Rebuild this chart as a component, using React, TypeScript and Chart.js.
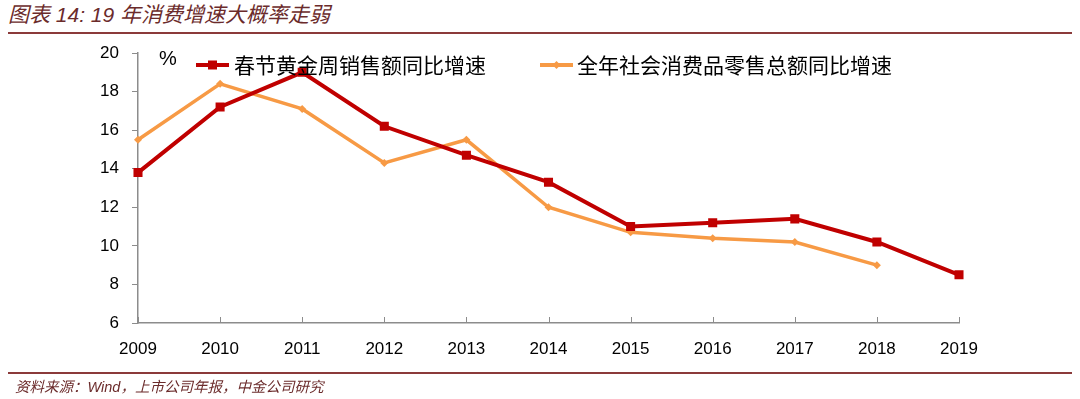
import React, { useEffect, useRef } from "react";
import { Chart, registerables } from "chart.js";

Chart.register(...registerables);

const years = ["2009", "2010", "2011", "2012", "2013", "2014", "2015", "2016", "2017", "2018", "2019"];
const goldenWeekGrowth = [13.8, 17.2, 19.0, 16.2, 14.7, 13.3, 11.0, 11.2, 11.4, 10.2, 8.5];
const retailGrowth: (number | null)[] = [15.5, 18.4, 17.1, 14.3, 15.5, 12.0, 10.7, 10.4, 10.2, 9.0, null];
const seriesNames = ["春节黄金周销售额同比增速", "全年社会消费品零售总额同比增速"];
const yMin = 6;
const yMax = 20;
const yStep = 2;

const RED = "#C00000";
const ORANGE = "#F79A45";
const AXIS = "#8c8c8c";
const TITLE_COLOR = "#6B2B2B";

const overlayPlugin = {
  id: "overlay",
  afterDraw(chart: any) {
    const ctx = chart.ctx;
    const xs = chart.scales.x;
    const area = chart.chartArea;
    ctx.save();
    ctx.strokeStyle = AXIS;
    ctx.lineWidth = 1;
    for (let i = 0; i < years.length; i++) {
      const px = Math.round(xs.getPixelForValue(i)) + 0.5;
      ctx.beginPath();
      ctx.moveTo(px, area.bottom);
      ctx.lineTo(px, area.bottom - 6);
      ctx.stroke();
    }
    ctx.fillStyle = "#000";
    ctx.font = "20px 'Liberation Sans', Arial, sans-serif";
    ctx.textAlign = "center";
    ctx.textBaseline = "middle";
    ctx.fillText("%", 168, 59);
    const ly = 65;
    const items = [
      { x0: 196, x1: 229, tx: 234, color: RED, style: "rect", lw: 4 },
      { x0: 540, x1: 573, tx: 577, color: ORANGE, style: "rectRot", lw: 4 },
    ];
    items.forEach((it, i) => {
      ctx.strokeStyle = it.color;
      ctx.lineWidth = it.lw;
      ctx.beginPath();
      ctx.moveTo(it.x0, ly);
      ctx.lineTo(it.x1, ly);
      ctx.stroke();
      ctx.fillStyle = it.color;
      const cx = (it.x0 + it.x1) / 2;
      if (it.style === "rect") {
        ctx.fillRect(cx - 4.5, ly - 4.5, 9, 9);
      } else {
        ctx.beginPath();
        ctx.moveTo(cx, ly - 4);
        ctx.lineTo(cx + 4, ly);
        ctx.lineTo(cx, ly + 4);
        ctx.lineTo(cx - 4, ly);
        ctx.closePath();
        ctx.fill();
      }
      ctx.fillStyle = "#000";
      ctx.font = "21px 'Noto Sans CJK SC', sans-serif";
      ctx.textAlign = "left";
      ctx.textBaseline = "middle";
      ctx.fillText(seriesNames[i], it.tx, ly);
    });
    ctx.restore();
  },
};

export default function App() {
  const ref = useRef<HTMLCanvasElement>(null);
  useEffect(() => {
    if (!ref.current) return;
    const chart = new Chart(ref.current, {
      type: "line",
      data: {
        labels: years,
        datasets: [
          {
            label: seriesNames[0],
            data: goldenWeekGrowth,
            borderColor: RED,
            backgroundColor: RED,
            borderWidth: 4,
            pointStyle: "rect",
            pointRadius: 6.4,
            pointBorderWidth: 0,
            tension: 0,
          },
          {
            label: seriesNames[1],
            data: retailGrowth,
            borderColor: ORANGE,
            backgroundColor: ORANGE,
            borderWidth: 3.5,
            pointStyle: "rectRot",
            pointRadius: 4,
            pointBorderWidth: 0,
            tension: 0,
            spanGaps: false,
          },
        ],
      },
      options: {
        responsive: false,
        animation: false,
        layout: { padding: { left: 0, right: 121, top: 53, bottom: 0 } },
        plugins: { legend: { display: false }, tooltip: { enabled: false } },
        scales: {
          x: {
            type: "category",
            offset: false,
            grid: { display: false, offset: false },
            border: { display: true, color: AXIS, width: 1.5 },
            ticks: {
              color: "#000",
              padding: 8,
              maxRotation: 0,
              autoSkip: false,
              font: { size: 17, family: "'Liberation Sans', Arial, sans-serif" },
            },
            afterFit(scale: any) {
              scale.height = 76;
            },
          },
          y: {
            min: yMin,
            max: yMax,
            ticks: {
              stepSize: yStep,
              color: "#000",
              padding: 13,
              font: { size: 17, family: "'Liberation Sans', Arial, sans-serif" },
            },
            grid: { drawOnChartArea: false, drawTicks: true, tickLength: 6, color: AXIS },
            border: { display: true, color: AXIS, width: 1.5 },
            afterFit(scale: any) {
              scale.width = 138;
            },
          },
        },
      },
      plugins: [overlayPlugin],
    });
    return () => chart.destroy();
  }, []);

  return (
    <div style={{ position: "fixed", left: 0, top: 0, width: 1080, height: 399, background: "#fff" }}>
      <div
        style={{
          position: "absolute",
          left: 8,
          top: 2,
          fontFamily: "'Liberation Sans', 'Noto Sans CJK SC', sans-serif",
          fontStyle: "italic",
          fontSize: 21,
          color: TITLE_COLOR,
          lineHeight: "26px",
          whiteSpace: "nowrap",
        }}
      >
        图表 14: 19 年消费增速大概率走弱
      </div>
      <div style={{ position: "absolute", left: 8, top: 32, width: 1064, height: 2, background: "#8B3A3A" }} />
      <canvas ref={ref} width={1080} height={399} style={{ position: "absolute", left: 0, top: 0 }} />
      <div style={{ position: "absolute", left: 8, top: 372, width: 1064, height: 2, background: "#8B3A3A" }} />
      <div
        style={{
          position: "absolute",
          left: 15,
          top: 377,
          fontFamily: "'Liberation Sans', 'Noto Sans CJK SC', sans-serif",
          fontStyle: "italic",
          fontSize: 14.5,
          color: TITLE_COLOR,
          lineHeight: "20px",
          whiteSpace: "nowrap",
        }}
      >
        资料来源：Wind，上市公司年报，中金公司研究
      </div>
    </div>
  );
}
